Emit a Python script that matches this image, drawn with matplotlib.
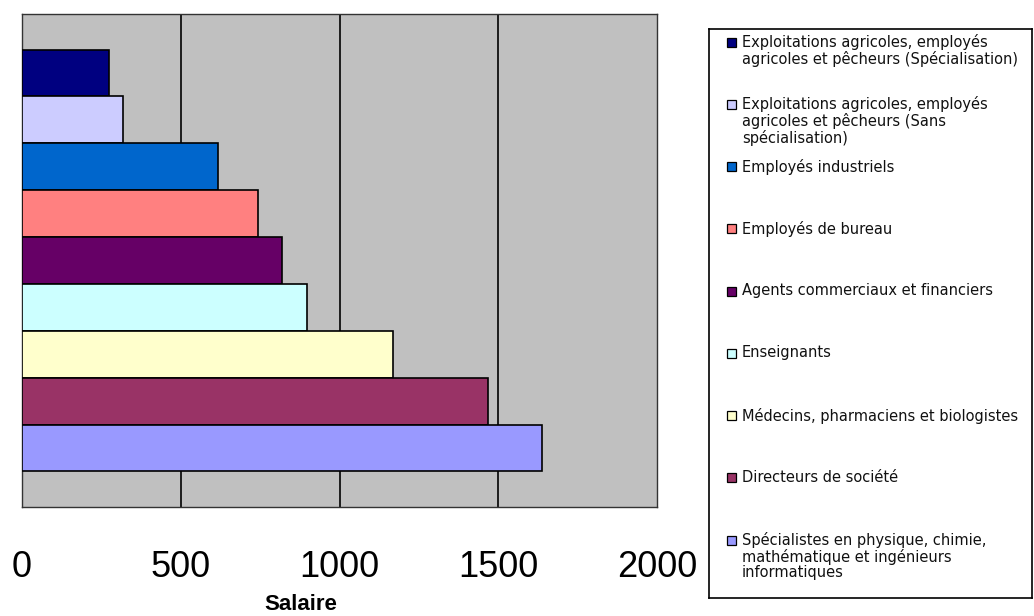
import matplotlib
matplotlib.use('Agg')
import matplotlib.pyplot as plt
from matplotlib.patches import Rectangle

# categories, top to bottom as in the chart
categories = [
    'Exploitations agricoles, employés\nagricoles et pêcheurs (Spécialisation)',
    'Exploitations agricoles, employés\nagricoles et pêcheurs (Sans\nspécialisation)',
    'Employés industriels',
    'Employés de bureau',
    'Agents commerciaux et financiers',
    'Enseignants',
    'Médecins, pharmaciens et biologistes',
    'Directeurs de société',
    'Spécialistes en physique, chimie,\nmathématique et ingénieurs\ninformatiques',
]
salaire = [275, 319, 616, 744, 818, 897, 1170, 1469, 1637]
colors = ['#000080', '#CCCCFF', '#0066CC', '#FF8080', '#660066',
          '#CCFFFF', '#FFFFCC', '#993366', '#9999FF']
xticks = [0, 500, 1000, 1500, 2000]

W, H = 1034, 616
fig = plt.figure(figsize=(W / 100, H / 100), dpi=100)

ax = fig.add_axes([22 / W, 1 - 507 / H, (657 - 22) / W, (507 - 14) / H])
ax.set_facecolor('#C0C0C0')
pos = list(range(len(salaire)))
ax.barh(pos, salaire, height=1.0, color=colors, edgecolor='black', linewidth=1.2, zorder=3)
ax.set_xlim(0, 2000)
ax.set_ylim(len(salaire) - 1 + 0.5 + 0.76, -0.5 - 0.76)
ax.set_yticks([])
ax.set_xticks(xticks)
ax.set_xticklabels([str(t) for t in xticks], fontsize=26, family='Liberation Sans')
ax.tick_params(axis='x', length=0, pad=31)
for t in xticks[1:-1]:
    ax.axvline(t, color='black', linewidth=1.2, zorder=2)
for s in ax.spines.values():
    s.set_linewidth(1.0)
    s.set_color('#333333')

fig.text(301 / W, 1 - 605 / H, 'Salaire', ha='center', va='center',
         fontsize=16, fontweight='bold', family='Liberation Sans')

# legend box drawn by hand to keep Excel's even spacing
lx0, ly0, lx1, ly1 = 709, 29, 1032, 598
lax = fig.add_axes([lx0 / W, 1 - ly1 / H, (lx1 - lx0) / W, (ly1 - ly0) / H])
lax.set_xlim(0, lx1 - lx0)
lax.set_ylim(ly1 - ly0, 0)
lax.set_xticks([])
lax.set_yticks([])
for s in lax.spines.values():
    s.set_linewidth(1.2)
    s.set_color('black')

for i, (lab, c) in enumerate(zip(categories, colors)):
    y = 13 + 62.25 * i
    lax.add_patch(Rectangle((18, y - 4.5), 9, 9, facecolor=c, edgecolor='black', linewidth=0.9))
    lax.text(33, y - 8, lab, fontsize=10.5, va='top', ha='left', linespacing=1.05,
             family='DejaVu Sans', color='#111111')

fig.savefig('out.png', dpi=100)
